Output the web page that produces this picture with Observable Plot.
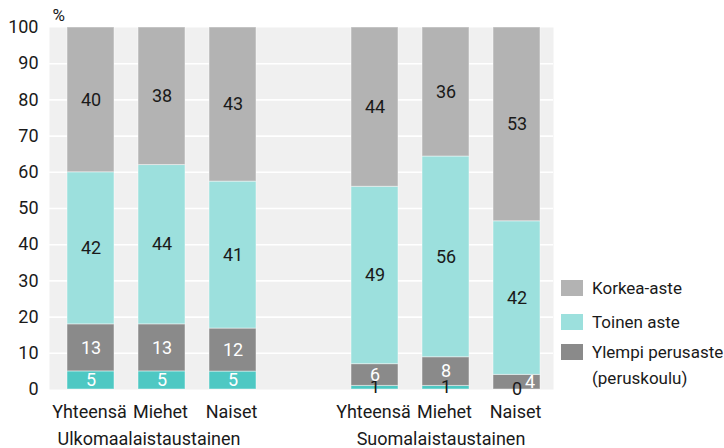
<!DOCTYPE html>
<html>
<head>
<meta charset="utf-8">
<script src="https://cdn.jsdelivr.net/npm/d3@7"></script>
<script src="https://cdn.jsdelivr.net/npm/@observablehq/plot@0.6"></script>
<style>
  body { margin: 0; background: white; font-family: Roboto, sans-serif; }
  #wrap { position: relative; width: 724px; height: 448px; }
  .leg { position: absolute; left: 561px; font-size: 17px; color: #1a1a1a; line-height: 26px; }
  .sw { position: absolute; left: 0; width: 22px; height: 16px; }
  .lt { position: absolute; left: 31px; white-space: nowrap; }
</style>
</head>
<body>
<div id="wrap"></div>
<script>
const categories = ["Yhteensä", "Miehet", "Naiset"];
const groups = ["Ulkomaalaistaustainen", "Suomalaistaustainen"];
const levels = ["Alempi perusaste", "Ylempi perusaste (peruskoulu)", "Toinen aste", "Korkea-aste"];
const alempi = [5, 5, 5, 1, 1, 0];
const ylempi = [13, 13, 12, 6, 8, 4];
const toinen = [42, 44, 41, 49, 56, 42];
const korkea = [40, 38, 43, 44, 36, 53];
const yTicks = [0, 10, 20, 30, 40, 50, 60, 70, 80, 90, 100];
const colors = ["#4ec8c3", "#8a8a8a", "#9ce0dd", "#b3b3b3"];
const legendItems = [
  {level: "Korkea-aste", text: "Korkea-aste"},
  {level: "Toinen aste", text: "Toinen aste"},
  {level: "Ylempi perusaste (peruskoulu)", text: "Ylempi perusaste<br>(peruskoulu)"}
];

const keys = [];
groups.forEach((g, gi) => {
  categories.forEach(c => keys.push(g + "|" + c));
  if (gi === 0) keys.push("gap");
});
const barKeys = keys.filter(k => k !== "gap");
const series = [alempi, ylempi, toinen, korkea];

const rows = [];
barKeys.forEach((key, i) => {
  const sum = d3.sum(series, s => s[i]);
  let cum = 0;
  series.forEach((s, li) => {
    const v = s[i];
    const y1 = cum / sum * 100;
    cum += v;
    const y2 = cum / sum * 100;
    rows.push({key, level: levels[li], li, value: v, y1, y2, ymid: (y1 + y2) / 2});
  });
});

const isWhite = d => d.li === 1 || (d.li === 0 && d.value >= 2);
const shifted = d => d.li === 1 && d.value < 5;

const tickRows = barKeys.map(k => ({key: k, label: k.split("|")[1]}));
const groupRows = groups.map((g, gi) => ({key: g + "|" + categories[1], label: g, gi}));

const chart = Plot.plot({
  width: 724,
  height: 448,
  marginLeft: 49,
  marginRight: 171,
  marginTop: 27,
  marginBottom: 59,
  style: {fontFamily: "Roboto, sans-serif", fontSize: "18px", color: "#1a1a1a", background: "white"},
  x: {domain: keys, paddingInner: 0.34, paddingOuter: 0.203, align: 0.57, axis: null},
  y: {domain: [0, 100], axis: null},
  color: {domain: levels, range: colors},
  marks: [
    Plot.frame({fill: "#f0f0f0", stroke: "none"}),
    Plot.gridY(yTicks.filter(t => t > 0 && t < 100), {stroke: "white", strokeOpacity: 1, strokeWidth: 1.6}),
    Plot.rectY(rows, {x: "key", y1: "y1", y2: "y2", fill: "level", stroke: "white", strokeOpacity: 0.45, strokeWidth: 1}),
    Plot.text(rows.filter(d => !isWhite(d)), {x: "key", y: "ymid", text: "value", fill: "#1a1a1a", fontSize: 18}),
    Plot.text(rows.filter(d => isWhite(d) && !shifted(d)), {x: "key", y: "ymid", text: "value", fill: "white", fontSize: 18}),
    Plot.text(rows.filter(d => isWhite(d) && shifted(d)), {x: "key", y: "ymid", text: "value", fill: "white", fontSize: 18, dx: 13}),
    Plot.axisY(yTicks, {tickSize: 0, tickPadding: 11, fontSize: 18, label: null}),
    Plot.text(["%"], {frameAnchor: "top-left", text: d => d, textAnchor: "start", lineAnchor: "middle", dx: 3, dy: -12, fontSize: 17}),
    Plot.text(tickRows, {x: "key", text: "label", frameAnchor: "bottom", lineAnchor: "middle", dy: 23, dx: -1.5, fontSize: 18}),
    Plot.text(groupRows.filter(d => d.gi === 0), {x: "key", text: "label", frameAnchor: "bottom", lineAnchor: "middle", dy: 50, dx: -13, fontSize: 18}),
    Plot.text(groupRows.filter(d => d.gi === 1), {x: "key", text: "label", frameAnchor: "bottom", lineAnchor: "middle", dy: 50, dx: -5, fontSize: 18})
  ]
});

const wrap = document.getElementById("wrap");
wrap.appendChild(chart);

const legTops = [280, 314, 344];
legendItems.forEach((it, i) => {
  const div = document.createElement("div");
  div.className = "leg";
  div.style.top = legTops[i] + "px";
  const ci = levels.indexOf(it.level);
  div.innerHTML = `<div class="sw" style="background:${colors[ci]}; top:0px"></div><div class="lt" style="top:-5px">${it.text}</div>`;
  wrap.appendChild(div);
});
</script>
</body>
</html>
